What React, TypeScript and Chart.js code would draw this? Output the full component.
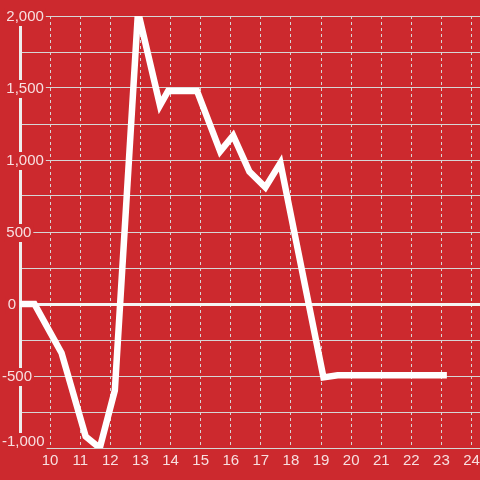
import React, { useEffect, useRef } from 'react';
import { Chart, registerables } from 'chart.js';

Chart.register(...registerables);

const xValues = [8.8, 9.48, 10.38, 11.18, 11.65, 12.15, 12.92, 13.65, 13.92, 14.88, 15.65, 16.08, 16.62, 17.15, 17.65, 19.08, 19.55, 23.18];
const yValues = [0, 0, -340, -920, -1000, -600, 2030, 1380, 1480, 1480, 1060, 1170, 920, 810, 980, -510, -495, -495];
const xTicks = [10, 11, 12, 13, 14, 15, 16, 17, 18, 19, 20, 21, 22, 23, 24];
const yTicks = [-1000, -750, -500, -250, 0, 250, 500, 750, 1000, 1250, 1500, 1750, 2000];
const yLabelled = [-1000, -500, 0, 500, 1000, 1500, 2000];

const RED = '#CC292E';
const LABEL = 'rgba(255,255,255,0.85)';
const GRID = '#d6d6d6';
const FONT = "'Liberation Sans', Arial, sans-serif";

const labelTweak = {
  id: 'labelTweak',
  beforeDraw(chart: any) {
    const s: any = chart.scales.y;
    const items = s.getLabelItems();
    items.forEach((it: any) => {
      if (it._tweaked) return;
      it._tweaked = true;
      const label = String(it.label);
      const tr = it.options.translation;
      tr[1] += 1;
      if (label.startsWith('-')) tr[0] -= 4.3;
      if (label === '0') tr[0] += 1.4;
      if (label === (-1000).toLocaleString('en-US')) tr[1] -= 7;
    });
  },
};

export default function App() {
  const ref = useRef<HTMLCanvasElement>(null);
  useEffect(() => {
    if (!ref.current) return;
    const chart = new Chart(ref.current, {
      type: 'line',
      data: {
        datasets: [
          {
            data: xValues.map((x, i) => ({ x, y: yValues[i] })),
            borderColor: '#ffffff',
            borderWidth: 6.5,
            pointRadius: 0,
            tension: 0,
            fill: false,
          },
        ],
      },
      options: {
        animation: false,
        responsive: false,
        events: [],
        layout: { autoPadding: false, padding: { top: 16, left: 0, right: 0, bottom: 0 } },
        plugins: { legend: { display: false }, tooltip: { enabled: false } },
        scales: {
          x: {
            type: 'linear',
            min: 9,
            max: 24.28,
            afterBuildTicks: (s: any) => {
              s.ticks = xTicks.map((v) => ({ value: v }));
            },
            afterFit: (s: any) => {
              s.height = 32;
              s.paddingLeft = 0;
              s.paddingRight = 0;
            },
            grid: { color: GRID, lineWidth: 1, drawTicks: false },
            border: { display: false, dash: [3, 3] },
            ticks: {
              color: LABEL,
              font: { family: FONT, size: 15 },
              padding: 4,
              maxRotation: 0,
              autoSkip: false,
              callback: (v: any) => String(v),
            },
          },
          y: {
            min: -1000,
            max: 2000,
            afterBuildTicks: (s: any) => {
              s.ticks = yTicks.map((v) => ({ value: v }));
            },
            afterFit: (s: any) => {
              s.width = 20;
              s.paddingTop = 0;
              s.paddingBottom = 0;
            },
            grid: {
              color: (c: any) => (c.tick && c.tick.value === 0 ? '#f4f4f4' : GRID),
              lineWidth: (c: any) => (c.tick && c.tick.value === 0 ? 3 : 1),
              drawTicks: false,
            },
            border: { display: true, color: '#eeeeee', width: 3 },
            ticks: {
              mirror: true,
              padding: -13.7,
              color: LABEL,
              font: { family: FONT, size: 15 },
              autoSkip: false,
              showLabelBackdrop: (c: any) => yLabelled.includes(c.tick && c.tick.value),
              backdropColor: RED,
              backdropPadding: { left: 2, right: 2, top: 0, bottom: 0 },
              callback: (v: any) => (yLabelled.includes(Number(v)) ? Number(v).toLocaleString('en-US') : ''),
            },
          },
        },
      } as any,
      plugins: [labelTweak],
    });
    return () => chart.destroy();
  }, []);
  return (
    <div style={{ position: 'fixed', left: 0, top: 0, width: 480, height: 480, background: RED }}>
      <canvas ref={ref} width={480} height={480} style={{ display: 'block', width: 480, height: 480 }} />
    </div>
  );
}
